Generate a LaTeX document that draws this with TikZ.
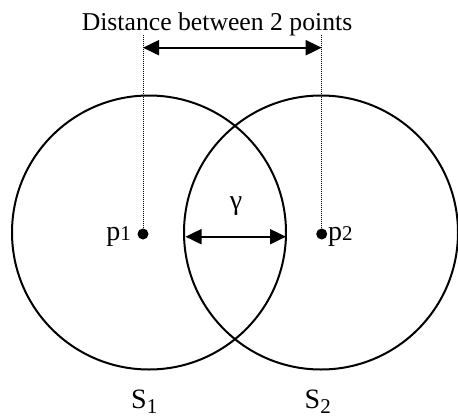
\documentclass[tikz,border=0pt]{standalone}
\usepackage{fontspec}
\setmainfont{Liberation Serif}
\usetikzlibrary{arrows.meta}
\begin{document}
\begin{tikzpicture}[x=1pt,y=-1pt,
  ring/.style={circle,draw,line width=2pt,minimum size=274pt,inner sep=0pt},
  pt/.style={circle,fill,inner sep=0pt,minimum size=11pt},
  guide/.style={line width=1pt,dash pattern=on 1pt off 1pt},
  dim/.style={line width=2pt,{Triangle[length=16pt,width=15pt]}-{Triangle[length=16pt,width=15pt]}},
  lbl/.style={inner sep=0pt,font=\fontsize{28}{32}\selectfont}]
\useasboundingbox (0,0) rectangle (458,418);
\node[ring] (S1) at (149,232.5) {};
\node[ring] (S2) at (321,232.5) {};
\node[pt] (p1) at (143,234) {};
\node[pt] (p2) at (321.7,234) {};
\coordinate (t1) at (143,35);
\coordinate (t2) at (321.7,35);
\draw[guide] (p1) -- (t1);
\draw[guide] (p2) -- (t2);
\coordinate (d1) at (143,47.7);
\coordinate (d2) at (321.7,47.7);
\draw[dim] (d1) -- (d2);
\coordinate (g1) at (185.5,236.7);
\coordinate (g2) at (286,236.7);
\draw[dim] (g1) -- (g2);
\node[inner sep=0pt,anchor=base,font=\fontsize{25.7}{30}\selectfont] (title) at (217,30.7) {Distance between 2 points};
\node[lbl,anchor=base east] (lp1) at (131,240) {p{\fontsize{21}{24}\selectfont 1}};
\node[lbl,anchor=base west] (lp2) at (328,240) {p{\fontsize{21}{24}\selectfont 2}};
\node[lbl] (gam) at (236,206) {γ};
\node[lbl,anchor=base west] (lS1) at (131,408.3) {S\raisebox{-5pt}{\fontsize{21}{24}\selectfont 1}};
\node[lbl,anchor=base west] (lS2) at (304.5,408.3) {S\raisebox{-5pt}{\fontsize{21}{24}\selectfont 2}};
\end{tikzpicture}
\end{document}
